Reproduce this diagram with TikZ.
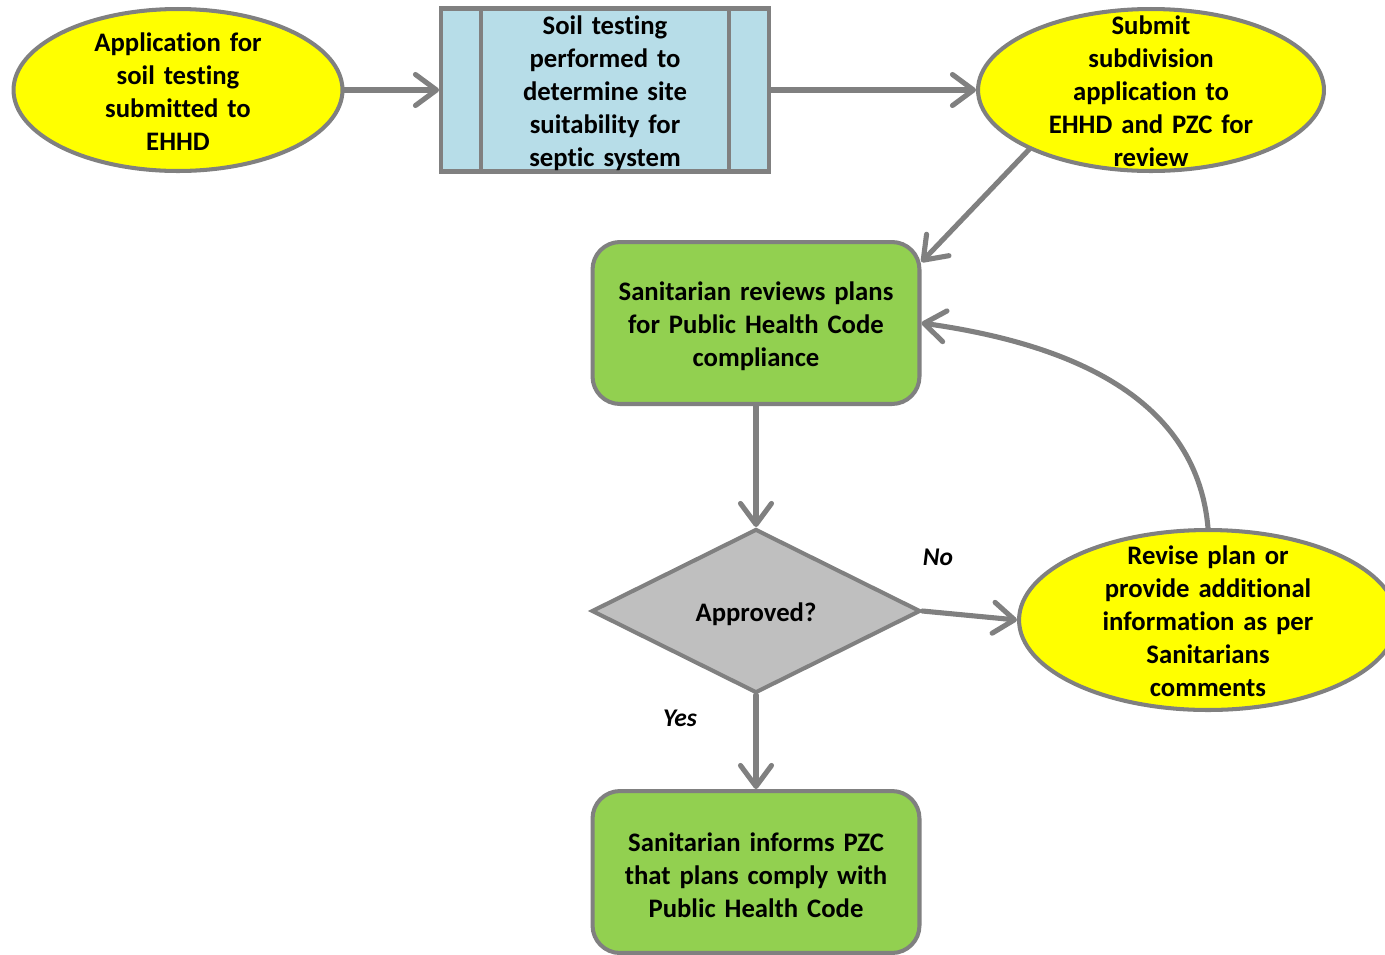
\documentclass[tikz,border=0pt]{standalone}
\usepackage{fontspec}
\setmainfont{Carlito}[Ligatures=NoCommon]
\usetikzlibrary{shapes.geometric,arrows.meta}
\definecolor{linegray}{RGB}{128,128,128}
\definecolor{ovalyellow}{RGB}{255,255,0}
\definecolor{testblue}{RGB}{183,221,232}
\definecolor{reviewgreen}{RGB}{146,208,80}
\definecolor{decisiongray}{RGB}{191,191,191}
\tikzset{
  boxtext/.style={align=center, font=\fontsize{15.2}{18.8}\selectfont\bfseries,
    execute at begin node={\rule{0pt}{#1}}},
  boxtext/.default=14.5pt,
  oval/.style={boxtext=12.5pt, ellipse, draw=linegray, line width=2.3pt, fill=ovalyellow,
    text width=5cm, inner xsep=-0.6cm, inner ysep=-1cm},
  process/.style={boxtext, rectangle, draw=linegray, line width=2.3pt, fill=testblue,
    minimum width=6.56cm, minimum height=3.26cm, text width=5.5cm, inner sep=0pt},
  checkbox/.style={boxtext, rectangle, rounded corners=0.55cm, draw=linegray, line width=2.3pt,
    fill=reviewgreen, minimum width=6.54cm, minimum height=3.24cm, text width=5.5cm, inner sep=0pt},
  decision/.style={boxtext, diamond, aspect=2, draw=linegray, line width=2.3pt, fill=decisiongray,
    minimum width=6.58cm, minimum height=3.28cm, inner sep=0pt},
  flow/.style={draw=linegray, line width=2.9pt, line cap=round,
    -{Straight Barb[length=0.42cm, width=0.62cm, line cap=round, round]}},
  answer/.style={font=\fontsize{14.5}{17}\selectfont\bfseries\itshape}
}
\begin{document}
\begin{tikzpicture}[x=0.02cm, y=-0.02cm]
  \useasboundingbox (0,0) rectangle (1385,954);
  \clip (0,0) rectangle (1385,954);

  \node[oval, minimum width=6.58cm, minimum height=3.24cm] (apply) at (178,90)
    {Application for\\soil testing\\submitted to\\EHHD};
  \node[process] (soil) at (605,90)
    {Soil testing\\performed to\\determine site\\suitability for\\septic system};
  \draw[linegray, line width=2.3pt] ([xshift=0.84cm]soil.north west) -- ([xshift=0.84cm]soil.south west);
  \draw[linegray, line width=2.3pt] ([xshift=-0.84cm]soil.north east) -- ([xshift=-0.84cm]soil.south east);
  \node[oval, minimum width=6.92cm, minimum height=3.24cm] (submit) at (1151,90)
    {Submit\\subdivision\\application to\\EHHD and PZC for\\review};

  \node[checkbox] (review) at (756,323)
    {Sanitarian reviews plans\\for Public Health Code\\compliance};
  \node[decision] (approved) at (756,611) {Approved?};
  \node[oval, minimum width=7.56cm, minimum height=3.6cm] (revise) at (1208,620)
    {Revise plan or\\provide additional\\information as per\\Sanitarians\\comments};
  \node[checkbox] (inform) at (756,872)
    {Sanitarian informs PZC\\that plans comply with\\Public Health Code};

  \node[answer] (no) at (938,557) {No};
  \node[answer] (yes) at (680,718) {Yes};

  \draw[flow] (apply) -- (soil);
  \draw[flow] (soil) -- (submit);
  \draw[flow] (submit.206) -- ([yshift=-0.44cm]review.north east);
  \draw[flow] (review) -- (approved);
  \draw[flow] (approved.east) -- (revise.west);
  \draw[flow] (revise.north) to[out=95, in=-8] (review.east);
  \draw[flow] (approved) -- (inform);
\end{tikzpicture}
\end{document}
